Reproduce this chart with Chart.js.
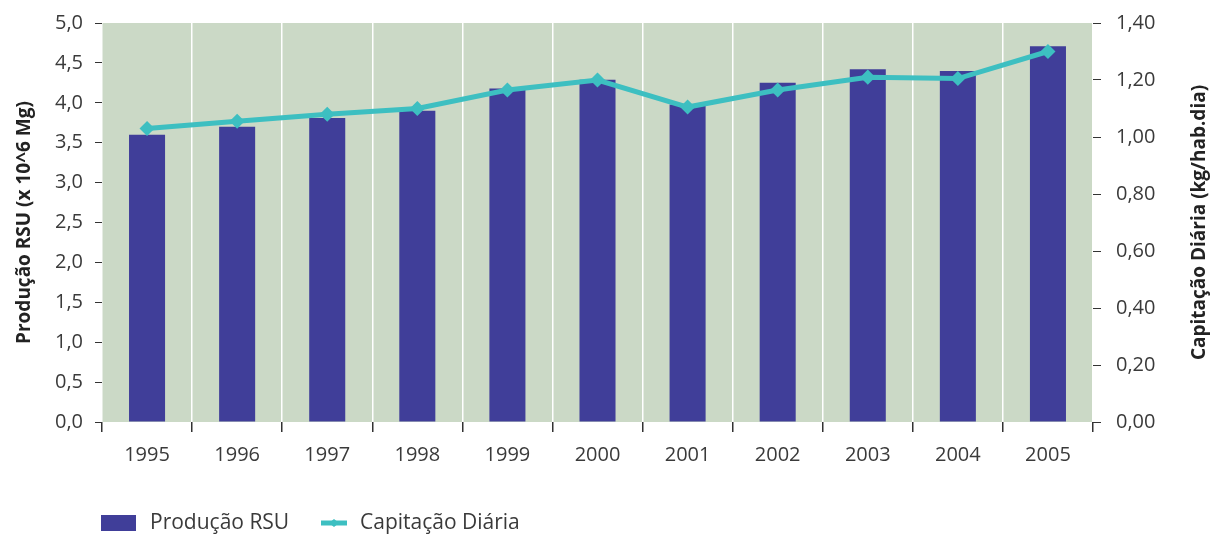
<!DOCTYPE html>
<html lang="pt">
<head>
  <meta charset="UTF-8">
  <title>Produção RSU e Capitação Diária</title>
  <script src="https://cdn.jsdelivr.net/npm/chart.js@4.4.0/dist/chart.umd.min.js"></script>
  <style>
    body { margin: 0; background: #fff; }
  </style>
</head>
<body>
  <canvas id="myChart" width="1221" height="538"></canvas>

<script>
// data
const years = ['1995', '1996', '1997', '1998', '1999', '2000', '2001', '2002', '2003', '2004', '2005'];
const producao = [3.60, 3.70, 3.81, 3.90, 4.18, 4.29, 3.98, 4.25, 4.42, 4.40, 4.71];   // x 10^6 Mg
const capitacao = [1.03, 1.055, 1.08, 1.10, 1.165, 1.20, 1.105, 1.165, 1.21, 1.205, 1.30]; // kg/hab.dia
const leftTitle = 'Produção RSU (x 10^6 Mg)';
const rightTitle = 'Capitação Diária (kg/hab.dia)';

const BAR = '#403e99';
const LINE = '#3dbfc1';
const BG = '#cbd9c6';
const TXT = '#3a3a3a';
const FONT = '"Open Sans", sans-serif';

// plot background, rotated axis titles (both read bottom-to-top) and legend
const decor = {
  id: 'decor',
  beforeDraw(chart) {
    const { ctx, chartArea: a } = chart;
    ctx.save();
    ctx.fillStyle = BG;
    ctx.fillRect(a.left, a.top, a.right - a.left, a.bottom - a.top);
    ctx.restore();
  },
  afterDraw(chart) {
    const { ctx, chartArea: a } = chart;
    const midY = (a.top + a.bottom) / 2;
    ctx.save();
    ctx.fillStyle = '#222';
    ctx.font = 'bold 19px ' + FONT;
    ctx.textAlign = 'center';
    ctx.textBaseline = 'middle';
    [[25, leftTitle], [1200, rightTitle]].forEach(([x, t]) => {
      ctx.save();
      ctx.translate(x, midY);
      ctx.rotate(-Math.PI / 2);
      ctx.fillText(t, 0, 0);
      ctx.restore();
    });

    // legend
    const ds = chart.data.datasets;
    const ly = 523;
    ctx.font = '21px ' + FONT;
    ctx.textAlign = 'left';
    ctx.fillStyle = BAR;
    ctx.fillRect(101, ly - 8, 35, 16);
    ctx.fillStyle = TXT;
    ctx.fillText(ds[0].label, 150, ly);

    ctx.strokeStyle = LINE;
    ctx.lineWidth = 5;
    ctx.beginPath();
    ctx.moveTo(321, ly);
    ctx.lineTo(347, ly);
    ctx.stroke();
    ctx.fillStyle = LINE;
    ctx.beginPath();
    ctx.moveTo(334, ly - 4); ctx.lineTo(339, ly); ctx.lineTo(334, ly + 4); ctx.lineTo(329, ly);
    ctx.closePath();
    ctx.fill();
    ctx.fillStyle = TXT;
    ctx.fillText(ds[1].label, 360, ly);
    ctx.restore();
  }
};

const comma = (d) => (v) => Number(v).toFixed(d).replace('.', ',');
const fixY = (w) => (s) => { s.width = w; s.paddingTop = 0; s.paddingBottom = 0; };

new Chart(document.getElementById('myChart'), {
  data: {
    labels: years,
    datasets: [
      {
        type: 'bar',
        label: 'Produção RSU',
        data: producao,
        backgroundColor: BAR,
        yAxisID: 'y',
        categoryPercentage: 1,
        barPercentage: 0.4,
        order: 1
      },
      {
        type: 'line',
        label: 'Capitação Diária',
        data: capitacao,
        borderColor: LINE,
        backgroundColor: LINE,
        borderWidth: 5,
        pointStyle: 'rectRot',
        pointRadius: 4,
        yAxisID: 'y1',
        order: 0
      }
    ]
  },
  options: {
    responsive: false,
    animation: false,
    layout: { padding: { top: 23, left: 0, right: 0, bottom: 0 } },
    plugins: {
      legend: { display: false },
      tooltip: { enabled: false }
    },
    scales: {
      x: {
        border: { display: false },
        grid: { color: '#ffffff', lineWidth: 1.5, tickColor: '#333', tickLength: 10, offset: true },
        ticks: { color: TXT, font: { family: FONT, size: 20 }, padding: 11 },
        afterFit(s) { s.height = 116; s.paddingLeft = 0; s.paddingRight = 0; }
      },
      y: {
        position: 'left',
        min: 0, max: 5,
        border: { display: false },
        grid: { drawOnChartArea: false, tickColor: '#333', tickLength: 7 },
        ticks: { stepSize: 0.5, color: TXT, font: { family: FONT, size: 20 }, padding: 12, callback: comma(1) },
        afterFit: fixY(102)
      },
      y1: {
        position: 'right',
        min: 0, max: 1.4,
        border: { display: false },
        grid: { drawOnChartArea: false, tickColor: '#333', tickLength: 8 },
        ticks: { stepSize: 0.2, color: TXT, font: { family: FONT, size: 20 }, padding: 15, callback: comma(2) },
        afterFit: fixY(128)
      }
    }
  },
  plugins: [decor]
});
</script>
</body>
</html>
